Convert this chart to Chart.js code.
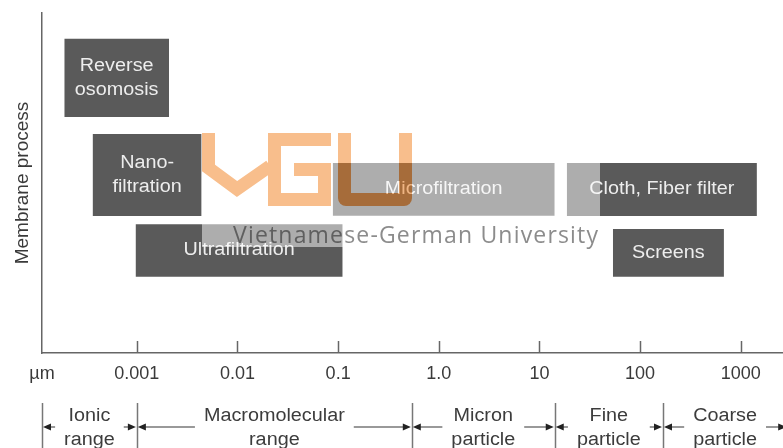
<!DOCTYPE html>
<html><head><meta charset="utf-8">
<script src="https://cdn.jsdelivr.net/npm/chart.js@4.4.1/dist/chart.umd.min.js"></script>
<style>html,body{margin:0;padding:0;background:#fff}</style>
</head><body>
<canvas id="c" width="783" height="448"></canvas>
<script>
// ---- data ----
const processLabels = [['Reverse','osomosis'],['Nano-','filtration'],['Ultrafiltration'],['Microfiltration'],['Cloth, Fiber filter'],['Screens']];
const sizeFrom = [1.9e-4, 3.63e-4, 9.7e-4, 0.0883, 18.7, 53.7];   // µm
const sizeTo   = [2.09e-3, 4.4e-3, 0.111, 14.2, 1450, 682];        // µm
const rowLow   = [69.4, 40.3, 22.4, 40.4, 40.3, 22.4];
const rowHigh  = [92.4, 64.4, 37.9, 55.9, 55.9, 36.5];
const axisMin = Math.pow(10, -3.9426);
const axisMax = Math.pow(10, 3.4206);
const tickValues = [axisMin, 0.001, 0.01, 0.1, 1, 10, 100, 1000];
const tickLabels = ['µm', '0.001', '0.01', '0.1', '1.0', '10', '100', '1000'];
const rangeLabels = [['Ionic','range'],['Macromolecular','range'],['Micron','particle'],['Fine','particle'],['Coarse','particle']];
const rangeBounds = [axisMin, 0.001, 0.54, 14.2, 169, 2900];
const watermarkText = 'Vietnamese-German University';

const FONT = '"Liberation Sans", Arial, Helvetica, sans-serif';

function stretchText(ctx, txt, x, y, sx) {
  ctx.save(); ctx.translate(x, y); ctx.scale(sx, 1); ctx.fillText(txt, 0, 0); ctx.restore();
}

const overlay = {
  id: 'overlay',
  beforeDraw(chart) {
    const ctx = chart.ctx;
    ctx.save();
    ctx.fillStyle = '#ffffff';
    ctx.fillRect(0, 0, chart.width, chart.height);
    ctx.restore();
  },
  afterDatasetsDraw(chart) {
    const ctx = chart.ctx, xs = chart.scales.x, ys = chart.scales.y;
    ctx.save();
    ctx.fillStyle = '#ededed';
    ctx.font = '18px ' + FONT;
    ctx.textAlign = 'center'; ctx.textBaseline = 'middle';
    processLabels.forEach((lines, i) => {
      const cx = (xs.getPixelForValue(sizeFrom[i]) + xs.getPixelForValue(sizeTo[i])) / 2;
      const cy = (ys.getPixelForValue(rowLow[i]) + ys.getPixelForValue(rowHigh[i])) / 2;
      const lh = 24;
      lines.forEach((t, k) => stretchText(ctx, t, cx, cy + (k - (lines.length - 1) / 2) * lh, 1.1));
    });
    ctx.restore();
  },
  afterDraw(chart) {
    const ctx = chart.ctx, xs = chart.scales.x, area = chart.chartArea;
    const W = chart.width, H = chart.height;
    ctx.save();
    // inward tick marks
    ctx.strokeStyle = '#666'; ctx.lineWidth = 1.5;
    tickValues.slice(1).forEach(v => {
      const px = Math.round(xs.getPixelForValue(v)) + 0.5;
      ctx.beginPath(); ctx.moveTo(px, area.bottom); ctx.lineTo(px, area.bottom - 12); ctx.stroke();
    });

    // watermark: translucent panel
    ctx.fillStyle = 'rgba(255,255,255,0.5)';
    ctx.fillRect(202, 125, 398, 122);
    // watermark: VGU logo, linear-burn blended
    const off = document.createElement('canvas');
    off.width = W; off.height = H;
    const o = off.getContext('2d');
    const orange = 'rgb(248,190,140)';
    o.strokeStyle = orange; o.fillStyle = orange;
    o.lineWidth = 13; o.lineJoin = 'miter'; o.lineCap = 'butt';
    o.beginPath(); o.moveTo(208.5, 133); o.lineTo(208.5, 168); o.lineTo(237, 189); o.lineTo(270, 166); o.stroke();
    o.fillRect(268, 133, 63, 13);
    o.fillRect(268, 133, 13, 73);
    o.fillRect(268, 193, 63, 13);
    o.fillRect(318, 163, 13, 43);
    o.fillRect(294, 163, 37, 13);
    o.beginPath(); o.roundRect(338, 133, 74, 73, [0, 0, 8, 8]); o.fill();
    o.clearRect(351, 133, 48, 60);
    const base = ctx.getImageData(0, 0, W, H);
    const src = o.getImageData(0, 0, W, H);
    const bd = base.data, sd = src.data;
    for (let p = 0; p < bd.length; p += 4) {
      const a = sd[p + 3] / 255;
      if (a <= 0) continue;
      for (let ch = 0; ch < 3; ch++) {
        const burn = Math.max(0, bd[p + ch] + sd[p + ch] - 255);
        bd[p + ch] = Math.round(bd[p + ch] * (1 - a) + burn * a);
      }
      bd[p + 3] = 255;
    }
    ctx.putImageData(base, 0, 0);
    // watermark: text
    ctx.globalCompositeOperation = 'multiply';
    ctx.fillStyle = 'rgb(140,140,140)';
    ctx.font = '23px "Open Sans", "DejaVu Sans", sans-serif';
    ctx.textAlign = 'left'; ctx.textBaseline = 'alphabetic';
    const chars = watermarkText.split('');
    const widths = chars.map(c => ctx.measureText(c).width);
    const total = widths.reduce((a, b) => a + b, 0);
    const gap = (598 - 233 - total) / (chars.length - 1);
    let xx = 233;
    chars.forEach((c, k) => { ctx.fillText(c, xx, 243); xx += widths[k] + gap; });
    ctx.globalCompositeOperation = 'source-over';

    // size-range annotations below the axis
    const yArrow = area.bottom + 74, yTop = area.bottom + 50, yBot = H;
    ctx.strokeStyle = '#777'; ctx.lineWidth = 1.5;
    rangeBounds.slice(0, -1).forEach(b => {
      const px = Math.round(xs.getPixelForValue(b)) + 0.5;
      ctx.beginPath(); ctx.moveTo(px, yTop); ctx.lineTo(px, yBot); ctx.stroke();
    });
    ctx.font = '18px ' + FONT;
    ctx.textAlign = 'center'; ctx.textBaseline = 'middle';
    const sx = 1.1, gapA = 9;
    rangeLabels.forEach((lines, i) => {
      const a = xs.getPixelForValue(rangeBounds[i]);
      const b = xs.getPixelForValue(rangeBounds[i + 1]);
      const c = (a + b) / 2;
      const hw = Math.max(...lines.map(t => ctx.measureText(t).width)) * sx / 2;
      ctx.fillStyle = '#3c3c3c';
      stretchText(ctx, lines[0], c, yArrow - 11, sx);
      stretchText(ctx, lines[1], c, yArrow + 13, sx);
      ctx.strokeStyle = '#777'; ctx.lineWidth = 1.5;
      ctx.beginPath(); ctx.moveTo(a + 6, yArrow); ctx.lineTo(c - hw - gapA, yArrow); ctx.stroke();
      ctx.beginPath(); ctx.moveTo(c + hw + gapA, yArrow); ctx.lineTo(b - 6, yArrow); ctx.stroke();
      ctx.fillStyle = '#222';
      ctx.beginPath(); ctx.moveTo(a + 1, yArrow); ctx.lineTo(a + 9, yArrow - 3.5); ctx.lineTo(a + 9, yArrow + 3.5); ctx.closePath(); ctx.fill();
      ctx.beginPath(); ctx.moveTo(b - 1, yArrow); ctx.lineTo(b - 9, yArrow - 3.5); ctx.lineTo(b - 9, yArrow + 3.5); ctx.closePath(); ctx.fill();
    });
    ctx.restore();
  }
};

function draw() {
  new Chart(document.getElementById('c'), {
    type: 'line',
    data: {
      datasets: processLabels.map((lbl, i) => ({
        label: lbl.join(' '),
        data: [{x: sizeFrom[i], y: rowHigh[i]}, {x: sizeTo[i], y: rowHigh[i]}],
        fill: {value: rowLow[i]},
        backgroundColor: '#5a5a5a',
        borderColor: 'rgba(0,0,0,0)',
        borderWidth: 0,
        pointRadius: 0,
        pointHoverRadius: 0,
        tension: 0
      }))
    },
    options: {
      responsive: false,
      animation: false,
      events: [],
      layout: {padding: {top: 13, right: 0, bottom: 0, left: 0}},
      plugins: {legend: {display: false}, tooltip: {enabled: false}},
      scales: {
        x: {
          type: 'logarithmic', min: axisMin, max: axisMax,
          grid: {display: false, drawTicks: false},
          border: {display: true, color: '#666', width: 1.5},
          afterBuildTicks: s => { s.ticks = tickValues.map(v => ({value: v})); },
          afterFit: s => { s.height = 95; },
          ticks: {
            autoSkip: false, maxRotation: 0, minRotation: 0, padding: 10,
            color: '#3a3a3a', font: {family: FONT, size: 18},
            callback: (v, i) => tickLabels[i]
          }
        },
        y: {
          type: 'linear', min: 0, max: 100,
          grid: {display: false, drawTicks: false},
          border: {display: true, color: '#666', width: 1.5},
          ticks: {display: false},
          afterFit: s => { s.width = 42; },
          title: {display: true, text: 'Membrane process', color: '#3a3a3a',
                  font: {family: FONT, size: 19}, padding: {top: 11, bottom: 0}}
        }
      }
    },
    plugins: [overlay]
  });
}
Promise.all([
  document.fonts.load('23px "Open Sans"'),
  document.fonts.load('18px "Liberation Sans"')
]).then(draw, draw);
</script>
</body></html>
